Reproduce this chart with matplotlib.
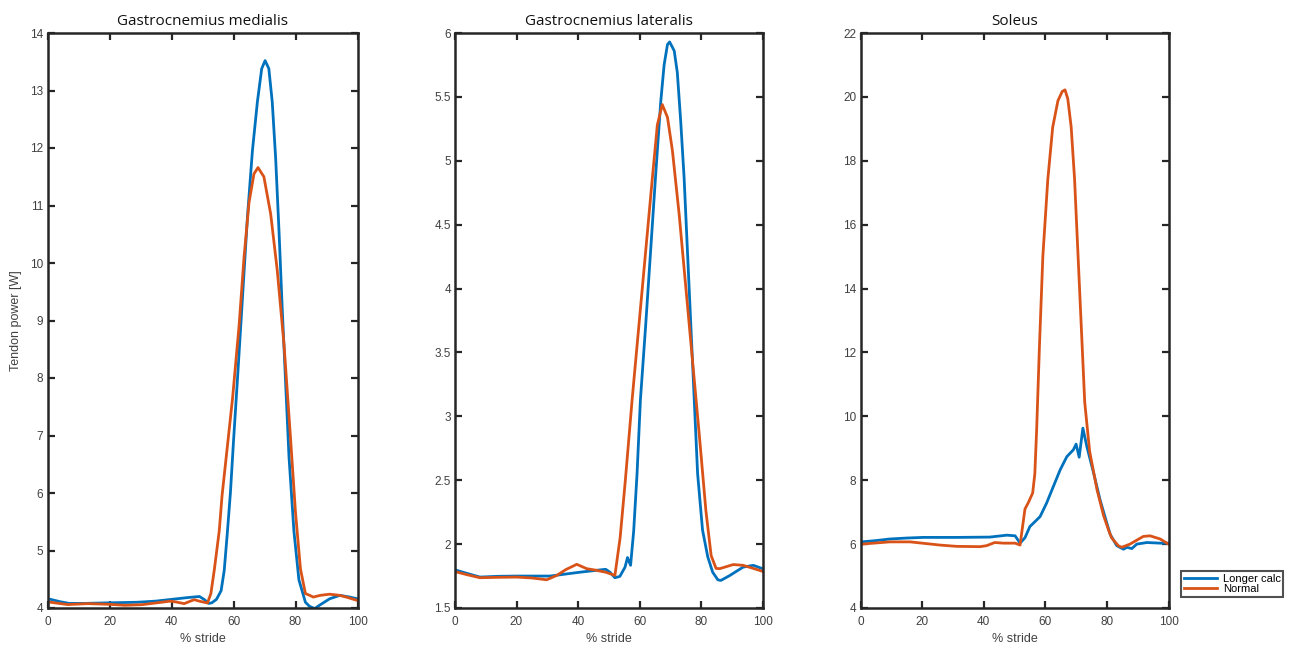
import matplotlib
matplotlib.use("Agg")
import matplotlib.pyplot as plt
from matplotlib.ticker import FuncFormatter
from matplotlib.lines import Line2D

# ---------------- data ----------------
titles = ["Gastrocnemius medialis", "Gastrocnemius lateralis", "Soleus"]
series_names = ["Longer calc", "Normal"]
x_ticks = [0, 20, 40, 60, 80, 100]

# Gastrocnemius medialis
gm_long_x = [1, 4, 7, 12, 20, 29, 35, 40, 45, 49, 50.5, 52, 53, 54.5, 56, 57, 58, 59, 60,
             61.3, 62.9, 64.5, 66.1, 67.7, 69.1, 70.2, 71.4, 72.5, 73.6, 74.7, 75.7, 76.8,
             77.9, 79.5, 81.1, 83.2, 84.5, 86.2, 87.8, 91, 94.3, 97.5, 100]
gm_long_y = [4.15, 4.11, 4.08, 4.08, 4.09, 4.10, 4.12, 4.15, 4.18, 4.20, 4.15, 4.08, 4.09,
             4.15, 4.30, 4.65, 5.30, 6.00, 6.90, 8.00, 9.40, 10.80, 11.95, 12.80, 13.38,
             13.52, 13.38, 12.80, 11.82, 10.53, 9.23, 7.93, 6.63, 5.33, 4.49, 4.10, 4.03,
             3.99, 4.05, 4.16, 4.22, 4.19, 4.16]
gm_norm_x = [1, 6.5, 13, 20, 25, 30.5, 34.8, 39.7, 41.9, 44.1, 47.3, 48.9, 51.6, 52.7, 53.8,
             55.4, 56.3, 57.5, 59.7, 61.8, 63.4, 65.0, 66.6, 67.9, 69.8, 72.0, 74.1, 76.3,
             78.4, 80.0, 81.6, 83.2, 84.6, 85.7, 88, 91, 94.3, 97, 100]
gm_norm_y = [4.10, 4.06, 4.076, 4.064, 4.047, 4.058, 4.087, 4.12, 4.10, 4.076, 4.145, 4.12,
             4.087, 4.25, 4.66, 5.34, 5.95, 6.55, 7.65, 8.91, 10.10, 11.05, 11.55, 11.66,
             11.50, 10.85, 9.88, 8.58, 6.95, 5.66, 4.68, 4.25, 4.22, 4.19, 4.22, 4.24, 4.22,
             4.18, 4.13]

# Gastrocnemius lateralis
gl_long_x = [0.5, 4, 8.1, 14, 20, 30.9, 40.6, 46, 49, 50.4, 52, 53.6, 55.3, 56.1, 57.1, 58.1,
             59.2, 60.3, 62, 63.6, 65.2, 66.9, 68, 69.1, 69.8, 71.3, 72.3, 73.4, 74.5, 75.6,
             76.7, 77.8, 78.9, 80.5, 82.2, 83.8, 85.5, 86.5, 89.4, 93.7, 97, 100]
gl_long_y = [1.795, 1.77, 1.742, 1.748, 1.75, 1.75, 1.78, 1.795, 1.803, 1.78, 1.737, 1.747,
             1.82, 1.895, 1.834, 2.10, 2.55, 3.13, 3.71, 4.29, 4.87, 5.46, 5.75, 5.91, 5.93,
             5.86, 5.69, 5.31, 4.87, 4.29, 3.71, 3.13, 2.55, 2.11, 1.90, 1.78, 1.72, 1.716,
             1.755, 1.82, 1.834, 1.808]
gl_norm_x = [0.5, 4, 8.1, 14, 20, 25, 29.8, 33.1, 36, 39.6, 42.8, 46, 49, 52, 53.7, 55.4, 57.6,
             59.8, 62, 64.2, 65.8, 67.4, 69.1, 70.7, 72.9, 75.1, 77.3, 79.5, 81.6, 83.3, 84.9,
             86.1, 90.5, 93.7, 97, 100]
gl_norm_y = [1.782, 1.76, 1.737, 1.74, 1.742, 1.735, 1.721, 1.755, 1.80, 1.842, 1.808, 1.795,
             1.78, 1.755, 2.05, 2.50, 3.13, 3.71, 4.29, 4.87, 5.28, 5.44, 5.34, 5.08, 4.58,
             4.00, 3.42, 2.84, 2.26, 1.91, 1.81, 1.808, 1.84, 1.834, 1.81, 1.787]

# Soleus
sol_long_x = [0.3, 5, 9.5, 15, 20.3, 31.2, 42, 47.5, 50.2, 51.8, 53.4, 55, 56.6, 58.3, 60.4,
              62.6, 64.8, 67, 69.1, 70, 71, 72.2, 73.5, 75.7, 77.8, 80, 81.1, 83.2, 85.4,
              86.5, 88.1, 89.7, 93, 97.3, 100]
sol_long_y = [6.07, 6.11, 6.16, 6.19, 6.21, 6.21, 6.22, 6.28, 6.26, 6.03, 6.20, 6.55, 6.70,
              6.86, 7.28, 7.80, 8.32, 8.74, 8.95, 9.13, 8.72, 9.63, 9.05, 8.22, 7.38, 6.65,
              6.30, 5.95, 5.84, 5.90, 5.86, 6.00, 6.05, 6.03, 6.03]
sol_norm_x = [0.3, 9.5, 16.1, 25.8, 31.2, 38.8, 40.9, 43.6, 46.4, 50.2, 51.8, 53.4, 54.5, 55.9,
              56.6, 57.2, 58.1, 59.2, 60.8, 62.4, 64.1, 65.5, 66.4, 67.3, 68.4, 69.5, 70.6,
              71.7, 72.8, 74.4, 76.8, 78.9, 80.5, 81.5, 83.7, 84.8, 87.5, 91.8, 94, 97.3, 100]
sol_norm_y = [6.00, 6.07, 6.07, 5.97, 5.93, 5.92, 5.95, 6.05, 6.03, 6.03, 5.97, 7.10, 7.30,
              7.60, 8.20, 9.60, 12.20, 15.00, 17.40, 19.05, 19.88, 20.17, 20.22, 19.94, 19.06,
              17.43, 15.10, 12.77, 10.44, 8.90, 7.70, 6.90, 6.45, 6.20, 5.95, 5.90, 6.00, 6.24,
              6.26, 6.16, 6.00]

y_limits = [(4, 14), (1.5, 6), (4, 22)]
y_ticks = [list(range(4, 15)),
           [1.5, 2, 2.5, 3, 3.5, 4, 4.5, 5, 5.5, 6],
           list(range(4, 23, 2))]

panels = [
    ((gm_long_x, gm_long_y), (gm_norm_x, gm_norm_y)),
    ((gl_long_x, gl_long_y), (gl_norm_x, gl_norm_y)),
    ((sol_long_x, sol_long_y), (sol_norm_x, sol_norm_y)),
]

# ---------------- style ----------------
plt.rcParams['font.family'] = ['Liberation Sans', 'DejaVu Sans']
colors = ["#0072BD", "#D95319"]
frame_col = "#262626"
label_col = "#404040"

W, H = 1301, 645
fig = plt.figure(figsize=(W / 100, H / 100), dpi=100)
fig.patch.set_facecolor("white")

lefts = [47.5, 455, 860.5]
widths = [310, 307.5, 308]
top_px, bot_px = 33, 608

axes = []
for i, (left, width) in enumerate(zip(lefts, widths)):
    ax = fig.add_axes([left / W, (H - bot_px) / H, width / W, (bot_px - top_px) / H])
    axes.append(ax)
    for j, (xs, ys) in enumerate(panels[i]):
        ax.plot(xs, ys, color=colors[j], lw=2.0, label=series_names[j], solid_joinstyle='round')
    ax.set_xlim(0, 100)
    ax.set_ylim(*y_limits[i])
    ax.set_xticks(x_ticks)
    ax.set_yticks(y_ticks[i])
    ax.yaxis.set_major_formatter(FuncFormatter(lambda v, p: f"{v:g}"))
    ax.tick_params(direction='in', top=True, right=True, length=5, width=1.6,
                   labelsize=8.5, labelcolor=label_col, color=frame_col)
    ax.tick_params(axis='y', pad=3)
    ax.tick_params(axis='x', pad=6)
    for s in ax.spines.values():
        s.set_linewidth(1.8)
        s.set_color(frame_col)
    ax.set_title(titles[i], fontsize=11, color="#111111", pad=6,
                 family=['Open Sans', 'DejaVu Sans'])
    ax.set_xlabel("% stride", fontsize=9, color=label_col, labelpad=3)

axes[0].set_ylabel("Tendon power [W]", fontsize=9, color=label_col, labelpad=6)

handles = [Line2D([0], [0], color=c, lw=2.0) for c in colors]
leg = fig.legend(handles, series_names, loc='lower left',
                 bbox_to_anchor=(1181 / W, (H - 597) / H), fontsize=8,
                 frameon=True, fancybox=False, edgecolor=frame_col,
                 handlelength=3.0, handletextpad=0.5, borderpad=0.25,
                 labelspacing=0.05, borderaxespad=0)
leg.get_frame().set_linewidth(1.5)

fig.savefig("out.png", dpi=100, facecolor="white")
